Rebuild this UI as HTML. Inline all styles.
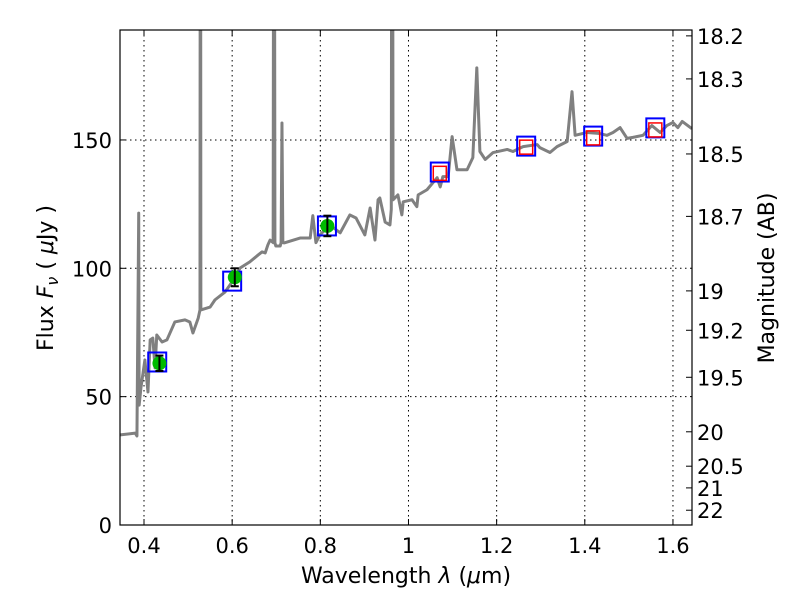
<!DOCTYPE html>
<html><head><meta charset="utf-8"><style>
body{margin:0;background:#fff;width:800px;height:600px;overflow:hidden}
svg{font-family:"DejaVu Sans","Liberation Sans",sans-serif}
</style></head><body>
<svg id="chart" width="800" height="600">
<defs><clipPath id="pc"><rect x="120" y="30" width="572" height="495"/></clipPath></defs>
<rect x="0" y="0" width="800" height="600" fill="#fff"/>
<g id="grid"></g>
<g id="series" clip-path="url(#pc)"></g>
<rect x="120" y="30" width="572" height="495" fill="none" stroke="#000" stroke-width="1.2"/>
<g id="axes"></g>
<text x="406" y="583" font-size="22" text-anchor="middle">Wavelength  <tspan font-style="italic">λ</tspan> (<tspan font-style="italic">μ</tspan>m)</text>
<text transform="translate(53,278) rotate(-90)" font-size="22" text-anchor="middle">Flux  <tspan font-style="italic">F<tspan font-size="16" dy="5">ν</tspan></tspan><tspan dy="-5">  ( </tspan><tspan font-style="italic">μ</tspan>Jy )</text>
<text transform="translate(774,278) rotate(-90)" font-size="22" text-anchor="middle">Magnitude (AB)</text>
</svg>
<script>
const specWl=[0.346,0.380,0.384,0.388,0.389,0.393,0.402,0.409,0.414,0.420,0.425,0.429,0.441,0.452,0.470,0.493,0.504,0.511,0.523,0.527,0.528,0.529,0.550,0.561,0.584,0.600,0.618,0.640,0.659,0.668,0.675,0.681,0.686,0.693,0.695,0.697,0.699,0.709,0.711,0.713,0.715,0.718,0.754,0.777,0.783,0.790,0.799,0.822,0.845,0.867,0.881,0.901,0.913,0.924,0.931,0.935,0.947,0.958,0.961,0.963,0.965,0.976,0.985,0.988,1.008,1.019,1.022,1.042,1.065,1.072,1.078,1.090,1.099,1.110,1.133,1.146,1.155,1.162,1.174,1.192,1.224,1.237,1.260,1.292,1.298,1.321,1.337,1.360,1.371,1.378,1.405,1.434,1.450,1.464,1.480,1.496,1.509,1.532,1.552,1.571,1.586,1.600,1.611,1.621,1.643];
const specFlux=[35.1,35.8,34.7,121.5,46.7,53.4,64.3,51.8,72.1,72.8,61.2,74,71.3,72.1,79.1,79.9,79.1,74.8,80.6,83.8,400,83.8,84.9,87.7,90.8,94.7,100.1,102.5,105.2,106.4,106,109.1,111,110,400,110,108.7,108.7,110,156.6,110,109.9,111.8,111.8,120.5,110,113,116.9,113.8,120.8,119.6,113,123.5,111,126.7,127.4,118,116.9,123,400,126.7,128.6,120.8,125.9,126.7,124,128.6,130.6,135.3,131.7,135.7,135.7,151.3,138.4,138.4,143.1,178.1,145.5,142.4,145.1,146.3,145.5,147.4,148.2,147,145.1,147.4,149.4,168.8,151.8,152.9,152.5,151.8,152.9,154.8,150.6,151,151.8,155.6,152.9,155.6,156.8,154.8,157.2,154.4];
const obsWl=[0.435,0.606,0.816];
const obsFlux=[63,96.5,116.5];
const obsErr=[3,3.5,4];
const modWl=[0.43,0.60,0.815,1.071,1.267,1.419,1.56];
const modFlux=[63.5,95,116.5,137.5,147.6,151.5,154.7];
const fitWl=[1.071,1.267,1.419,1.56];
const fitFlux=[137,147.2,150.8,153.9];
const xTicks=[0.4,0.6,0.8,1.0,1.2,1.4,1.6];
const xTickLabels=["0.4","0.6","0.8","1","1.2","1.4","1.6"];
const yTicks=[0,50,100,150];
const magTicks=[18.2,18.3,18.5,18.7,19,19.2,19.5,20,20.5,21,22];
const magLabels=["18.2","18.3","18.5","18.7","19","19.2","19.5","20","20.5","21","22"];
const X=w=>144+(w-0.4)*440.8;
const Y=f=>525-f*2.567;
const NS="http://www.w3.org/2000/svg";
function mk(parent,tag,attrs){const e=document.createElementNS(NS,tag);for(const k in attrs)e.setAttribute(k,attrs[k]);document.getElementById(parent).appendChild(e);return e;}
xTicks.forEach((t,i)=>{
  const g=mk('grid','line',{x1:X(t),x2:X(t),y1:30,y2:525,stroke:'#000','stroke-width':1,'stroke-dasharray':'1.5,3.5'});
  
  
  mk('axes','line',{x1:X(t),x2:X(t),y1:525,y2:519,stroke:'#000'});
  mk('axes','line',{x1:X(t),x2:X(t),y1:30,y2:36,stroke:'#000'});
  const l=mk('axes','text',{x:X(t),y:553,'font-size':21,'text-anchor':'middle'});
  l.textContent=xTickLabels[i];
  
  
});
yTicks.forEach(t=>{
  const g=mk('grid','line',{x1:120,x2:692,y1:Y(t),y2:Y(t),stroke:'#000','stroke-width':1,'stroke-dasharray':'1.5,3.5'});
  
  
  mk('axes','line',{x1:120,x2:126,y1:Y(t),y2:Y(t),stroke:'#000'});
  const l=mk('axes','text',{x:112,y:Y(t)+8,'font-size':21,'text-anchor':'end'});
  l.textContent=String(t);
  
  
});
magTicks.forEach((m,i)=>{
  const y=Y(Math.pow(10,(23.9-m)/2.5));
  mk('axes','line',{x1:686,x2:692,y1:y,y2:y,stroke:'#000'});
  const l=mk('axes','text',{x:697,y:y+8,'font-size':21});
  l.textContent=magLabels[i];
  
  
});
const sp=mk('series','polyline',{points:specWl.map((w,i)=>X(w)+','+Y(specFlux[i])).join(' '),fill:'none',stroke:'#808080','stroke-width':3,'stroke-linejoin':'round'});


modWl.forEach((w,i)=>{
  const r=mk('series','rect',{x:X(w)-9,y:Y(modFlux[i])-9.5,width:18,height:19,fill:'none',stroke:'#0000ff','stroke-width':2});
  
  
});
fitWl.forEach((w,i)=>{
  const r=mk('series','rect',{x:X(w)-6.5,y:Y(fitFlux[i])-7,width:13,height:14,fill:'none',stroke:'#ff0000','stroke-width':1.5});
  
  
});
obsWl.forEach((w,i)=>{
  const c=mk('series','circle',{cx:X(w),cy:Y(obsFlux[i]),r:7,fill:'#00bb00'});
  
  
  const x=X(w),y1=Y(obsFlux[i]+obsErr[i]),y2=Y(obsFlux[i]-obsErr[i]);
  mk('series','line',{x1:x,x2:x,y1:y1,y2:y2,stroke:'#000','stroke-width':2});
  mk('series','line',{x1:x-4,x2:x+4,y1:y1,y2:y1,stroke:'#000','stroke-width':2});
  mk('series','line',{x1:x-4,x2:x+4,y1:y2,y2:y2,stroke:'#000','stroke-width':2});
});
</script>
</body></html>
